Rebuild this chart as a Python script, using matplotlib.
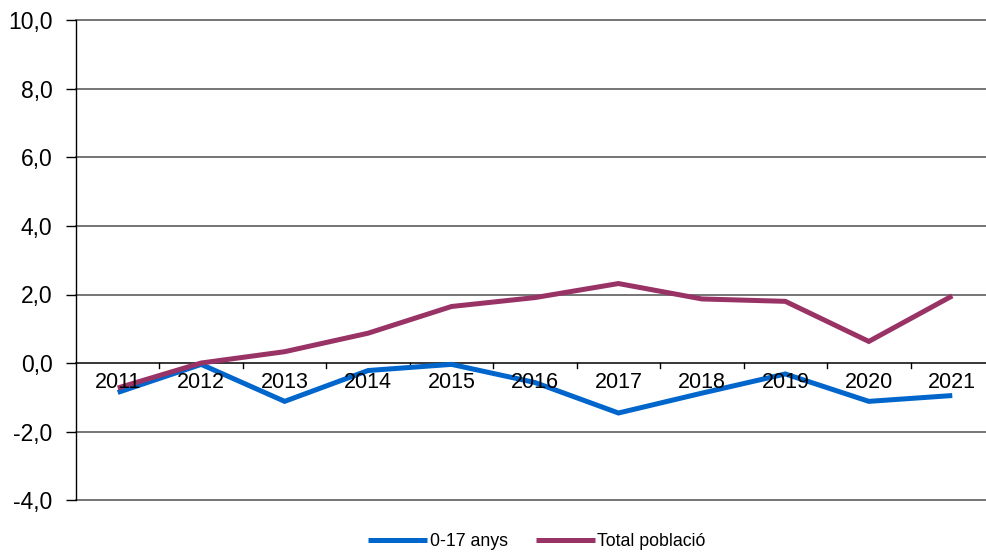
import matplotlib
matplotlib.use("Agg")
import matplotlib.pyplot as plt
from matplotlib.ticker import FixedLocator

plt.rcParams['font.family'] = ['Liberation Sans', 'DejaVu Sans']

years = ["2011", "2012", "2013", "2014", "2015", "2016", "2017", "2018", "2019", "2020", "2021"]
kids = [-0.86, -0.04, -1.12, -0.22, -0.04, -0.57, -1.46, -0.88, -0.32, -1.12, -0.95]
total = [-0.73, 0.0, 0.33, 0.87, 1.65, 1.91, 2.32, 1.87, 1.80, 0.63, 1.96]
yticks = [-4, -2, 0, 2, 4, 6, 8, 10]

W, H = 987, 554
fig = plt.figure(figsize=(W / 100, H / 100), dpi=100)
left = 76 / W
bottom = (H - 500) / H
top = (H - 20.5) / H
ax = fig.add_axes([left, bottom, 1.0 - left, top - bottom])

x = list(range(len(years)))
cat_w = 83.5
ax.set_xlim(-0.5, len(years) - 0.5 - (994 - 987) / cat_w)
ax.set_ylim(-4, 10)

for yv in yticks:
    ax.axhline(yv, color='#505050' if yv != 0 else 'black', lw=1.1, zorder=1, clip_on=False)

l1, = ax.plot(x, kids, color='#0066CC', lw=3.6, solid_capstyle='butt', solid_joinstyle='miter', zorder=3, label='0-17 anys')
l2, = ax.plot(x, total, color='#993366', lw=3.6, solid_capstyle='butt', solid_joinstyle='miter', zorder=3, label='Total població')

for s in ['top', 'right', 'bottom']:
    ax.spines[s].set_visible(False)
ax.spines['left'].set_color('black')
ax.spines['left'].set_linewidth(1.0)

ax.yaxis.set_major_locator(FixedLocator(yticks))
ax.set_yticklabels([f"{v:.1f}".replace('.', ',') for v in yticks], fontsize=16.5)
ax.tick_params(axis='y', direction='out', length=7, width=1, pad=10, colors='black')

ax.set_xticks([])
# category boundary tick marks under the zero line
for b in range(1, len(years)):
    ax.plot([b - 0.5, b - 0.5], [0, -0.15], color='black', lw=1.0, zorder=2, clip_on=False)
for xi, lab in zip(x, years):
    ax.text(xi, -0.27, lab, ha='center', va='top', fontsize=15.5, zorder=4)

fig.legend(handles=[l1, l2], loc='center', bbox_to_anchor=(537 / W, 1 - 542 / H), ncol=2,
           frameon=False, fontsize=12.8, handlelength=3.3, handletextpad=0.15, columnspacing=1.6)

fig.savefig("out.png", dpi=100)
